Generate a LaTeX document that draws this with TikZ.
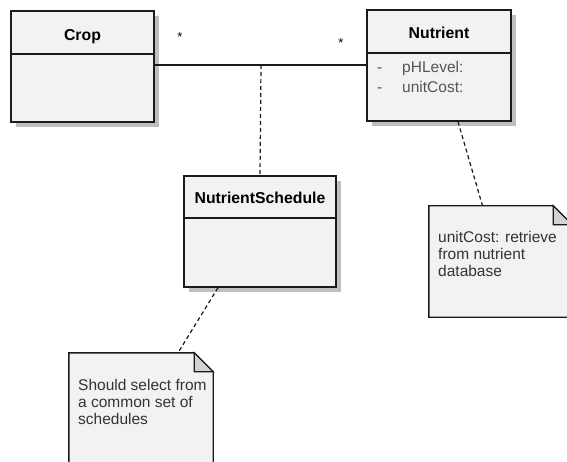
\documentclass[tikz,border=0pt]{standalone}
\usepackage{fontspec}
\setmainfont{Liberation Sans}
\usetikzlibrary{calc,shadows}
\definecolor{boxline}{HTML}{1A1A1A}
\definecolor{boxfill}{HTML}{F2F2F2}
\definecolor{shadowc}{HTML}{BFBFBF}
\definecolor{foldc}{HTML}{D3D3D3}
\definecolor{attrc}{HTML}{555555}
\definecolor{notetc}{HTML}{333333}
\tikzset{
  classbox/.style={draw=boxline, fill=boxfill, line width=1.4pt, inner sep=0pt,
    drop shadow={shadow xshift=5pt, shadow yshift=-5pt, fill=shadowc, opacity=1}},
  sepline/.style={draw=boxline, line width=1.4pt},
  classname/.style={font=\fontsize{15.8}{17}\selectfont\bfseries, inner sep=0pt, anchor=base},
  attr/.style={font=\fontsize{15.5}{17}\selectfont, text=attrc, inner sep=0pt, anchor=base west},
  notearea/.style={inner sep=0pt},
  noteline/.style={draw=boxline, fill=boxfill, line width=1.4pt, line join=miter},
  foldline/.style={draw=boxline, fill=foldc, line width=1.2pt},
  notetext/.style={font=\fontsize{15.5}{17}\selectfont, text=notetc, inner sep=0pt,
    anchor=north west, align=left},
  assoc/.style={draw=boxline, line width=1.2pt},
  anchorline/.style={draw=boxline, line width=1.2pt, dash pattern=on 4pt off 3pt},
  mult/.style={font=\fontsize{13}{14}\selectfont, inner sep=0pt}
}
\begin{document}
\begin{tikzpicture}[x=1pt,y=-1pt]
\useasboundingbox (0,0) rectangle (567,462);
\clip (0,0) rectangle (567,462);

% classes
\node[classbox, minimum width=143pt, minimum height=111pt] (crop) at (82.5,66.5) {};
\draw[sepline] (crop.west |- 0,54) -- (crop.east |- 0,54);
\node[classname] (croptitle) at (82.5,41) {Crop};

\node[classbox, minimum width=144pt, minimum height=111pt] (nutrient) at (439,65.5) {};
\draw[sepline] (nutrient.west |- 0,53) -- (nutrient.east |- 0,53);
\node[classname] (nuttitle) at (439,39) {Nutrient};
\node[attr] (d1) at (377,73) {-};
\node[attr] (a1) at (402,73) {pHLevel:};
\node[attr] (d2) at (377,93) {-};
\node[attr] (a2) at (402,93) {unitCost:};

\node[classbox, minimum width=152pt, minimum height=111pt] (ns) at (260,231.5) {};
\draw[sepline] (ns.west |- 0,218) -- (ns.east |- 0,218);
\node[classname] (nstitle) at (260,204) {NutrientSchedule};

% notes
\node[notearea, minimum width=143pt, minimum height=111pt] (note1) at (500.5,261.5) {};
\path[noteline] (note1.north west) -- ($(note1.north east)+(-19,0)$) -- ($(note1.north east)+(0,19)$)
  -- (note1.south east) -- (note1.south west) -- cycle;
\path[foldline] ($(note1.north east)+(-19,0)$) -- ($(note1.north east)+(-19,19)$) -- ($(note1.north east)+(0,19)$) -- cycle;
\node[notetext] (note1text) at (438,231) {unitCost: retrieve\\from nutrient\\database};

\node[notearea, minimum width=144pt, minimum height=117pt] (note2) at (141,411.5) {};
\path[noteline] (note2.north west) -- ($(note2.north east)+(-19,0)$) -- ($(note2.north east)+(0,19)$)
  -- (note2.south east) -- (note2.south west) -- cycle;
\path[foldline] ($(note2.north east)+(-19,0)$) -- ($(note2.north east)+(-19,19)$) -- ($(note2.north east)+(0,19)$) -- cycle;
\node[notetext] (note2text) at (78,379) {Should select from\\a common set of\\schedules};

% association
\coordinate (m) at (261,65);
\draw[assoc] (m -| crop.east) -- (m -| nutrient.west);
\draw[anchorline] (m) -- (ns.north);
\node[mult] (m1) at (180,37) {*};
\node[mult] (m2) at (341,43) {*};

% note anchors
\draw[anchorline] ([xshift=19pt]nutrient.south) -- ([xshift=-18pt]note1.north);
\draw[anchorline] ([xshift=-42pt]ns.south) -- ([xshift=37pt]note2.north);
\end{tikzpicture}
\end{document}
